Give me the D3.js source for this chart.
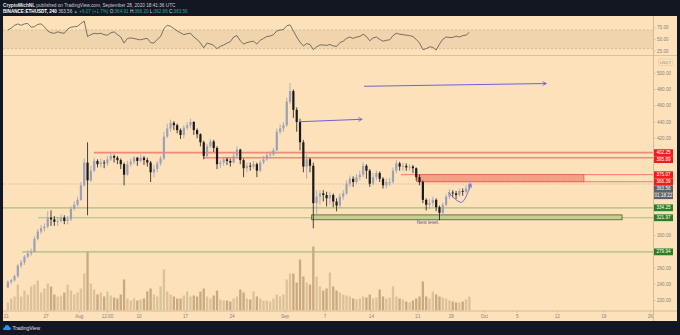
<!DOCTYPE html>
<html><head><meta charset="utf-8">
<script src="https://cdn.jsdelivr.net/npm/d3@7"></script>
<style>
html,body{margin:0;padding:0;background:#131722;}
svg{display:block;font-family:"Liberation Sans",Arial,sans-serif;}
</style>
</head><body>
<svg id="chart" width="680" height="335"></svg>
<script>
// ETHUSDT, 12h candles from 2020-07-21 00:00 UTC (two per day: 00:00 and 12:00)
const firstOpen = 236;
const closes = [
 243,245, 250,263, 267,274, 278,280, 296,305, 309,311, 322,320, 317,318, 322,318, 320,333, 338,344,
 362,390, 368,380, 392,388, 390,389, 394,398, 396,393, 388,375, 388,391, 396,392, 396,393, 390,378,
 382,389, 395,422, 432,439, 436,430, 424,433, 436,440, 430,425, 415,398, 410,416, 408,388, 390,394,
 392,390, 398,406, 393,383, 386,385, 388,380, 390,394, 399,400, 405,428, 432,436,
 465,478, 455,440, 415,385, 394,386, 340,348, 352,350, 346,350, 342,337, 348,352, 364,370, 366,372,
 375,386, 380,364, 372,377, 370,362, 366,366, 380,389, 385,386, 384,385, 383,372, 366,344, 338,340,
 344,335, 328,338, 348,353, 352,350, 355,354, 358,363.56
];
const highs = [
 245,247, 252,265, 270,276, 282,284, 299,308, 313,315, 330,331, 324,323, 326,325, 324,336, 342,348,
 366,395, 415,386, 396,394, 395,393, 398,402, 400,398, 395,390, 392,395, 398,397, 400,398, 396,392,
 387,392, 398,428, 438,443, 441,438, 432,436, 440,444, 441,432, 426,417, 413,419, 418,410, 394,397,
 396,395, 402,410, 407,395, 390,390, 392,390, 393,398, 402,404, 408,432, 437,440,
 470,488, 480,458, 444,418, 400,396, 390,356, 356,356, 354,354, 352,346, 352,356, 368,374, 373,376,
 380,390, 388,382, 377,380, 379,372, 370,371, 384,393, 391,390, 389,388, 387,384, 375,368, 346,345,
 348,346, 337,341, 351,357, 356,355, 358,358, 362,368.2
];
const lows = [
 235,240, 243,248, 260,264, 272,275, 279,294, 302,305, 309,312, 312,312, 316,314, 314,318, 331,336,
 343,360, 325,366, 378,384, 384,383, 386,392, 390,388, 382,362, 374,385, 388,386, 390,387, 385,366,
 372,378, 386,393, 420,428, 430,426, 419,420, 430,432, 424,420, 410,394, 396,408, 403,382, 383,386,
 387,385, 389,396, 388,372, 378,380, 382,372, 378,388, 392,395, 398,404, 425,428,
 434,462, 445,428, 405,378, 370,378, 309,325, 338,342, 336,338, 335,330, 334,344, 350,360, 360,364,
 368,372, 370,360, 362,368, 366,358, 358,361, 364,377, 380,380, 380,380, 377,368, 362,340, 331,333,
 336,330, 319,324, 336,345, 347,345, 348,349, 352,356
];
// volume per candle, in 10k ETH
const volumes = [
 8,12, 14,26, 14,20, 16,24, 26,30, 18,22, 27,24, 16,14, 15,18, 26,20, 16,18,
 22,37, 59,27, 21,16, 18,14, 19,15, 13,12, 16,31, 12,10, 12,10, 11,12, 19,22,
 16,14, 24,41, 19,16, 14,12, 12,15, 19,14, 15,14, 19,22, 14,12, 15,20, 11,10,
 10,9, 12,14, 21,18, 12,11, 19,14, 12,10, 10,9, 12,16, 14,16,
 31,37, 37,28, 51,34, 28,26, 64,34, 24,20, 22,38, 24,20, 18,16, 15,14, 12,11,
 12,14, 13,16, 12,13, 21,14, 12,13, 24,14, 12,11, 9,8, 10,12, 14,29, 14,12,
 19,16, 14,13, 12,10, 9,8, 8,9, 11,14
];
// RSI(14) readings per candle
const rsi = [
 70,74, 80,83, 80,83, 84,76, 77,82, 83,77, 68,64, 63,66, 64,63, 72,76, 77,78,
 84,89, 56,60, 63,62, 63,60, 59,64, 66,60, 55,42, 52,53, 52,50, 49,51, 52,43,
 42,50, 56,73, 80,78, 73,68, 64,60, 62,63, 55,50, 42,32, 42,40, 37,30, 35,38,
 42,45, 55,58, 47,40, 43,45, 46,40, 48,52, 56,57, 60,68, 70,71,
 79,81, 68,55, 44,36, 41,39, 28,34, 38,38, 37,39, 36,35, 43,46, 52,55, 52,55,
 56,61, 56,47, 53,55, 50,46, 48,49, 58,63, 61,60, 59,58, 56,50, 42,28, 30,34,
 33,27, 40,50, 55,54, 54,57, 55,58, 59,65
];

// price axis ticks and time axis labels
const priceTicks = [220,240,260,280,300,320,340,360,380,400,420,440,460,480,500];
const rsiTicks = [25,50,75];
const timeTickDates = ["2020-07-21","2020-07-27","2020-08-01","2020-08-05T06:00","2020-08-10","2020-08-17","2020-08-24",
  "2020-09-01","2020-09-07","2020-09-14","2020-09-21","2020-09-28","2020-10-01","2020-10-05","2020-10-12","2020-10-19","2020-10-26"];
const timeTickLabels = ["21","27","Aug","12:00","10","17","24","Sep","7","14","21","28","Oct","5","12","19","26"];

// drawn levels and zones
const redLevels = [{price:402.25, from:"2020-08-03T05:30"}, {price:395.89, from:"2020-08-19T15:00"}];
const greenLevels = [{price:334.25, from:"2020-07-20T00:00"}, {price:321.97, from:"2020-07-25T19:00"}, {price:279.94, from:"2020-07-23T09:30"}];
const redZone = {top:375.07, bottom:366.39, from:"2020-09-20T20:00", to:"2020-10-16T00:00", lineFrom:"2020-09-18T11:00"};
const greenZone = {top:325.5, bottom:319.5, from:"2020-09-05T00:00", to:"2020-10-21T18:00"};
const arrows = [
  [["2020-09-03T02:00",440.3],["2020-09-12T13:00",443.3]],
  [["2020-09-12T21:30",484.0],["2020-10-10T07:00",487.4]]
];
const pathPoints = [["2020-09-25T14:00",353.3],["2020-09-27T14:00",341.0],["2020-09-28T23:00",363.5]];
const noteText = {text:"Next level.", date:"2020-09-20T20:00", price:314};
const lastPrice = 363.56;
const countdown = "01:18:22";

const D = s => new Date(s.length === 10 ? s + "T00:00:00Z" : s + ":00Z");
const HALF = 12 * 3600e3;
const t0 = Date.UTC(2020, 6, 21);
const candles = closes.map((c, i) => ({
  t: new Date(t0 + i * HALF + HALF / 2),
  o: i ? closes[i - 1] : firstOpen, h: highs[i], l: lows[i], c, v: volumes[i], r: rsi[i]
}));

const svg = d3.select("#chart");
const L = 3, R = 653, TOP = 57, BOT = 310.5;

const x = d3.scaleUtc().domain([D("2020-07-21"), D("2020-10-26")]).range([6.2, 650.3]);
const y = d3.scaleLinear().domain([220, 500]).range([300.5, 73.3]);
const yR = d3.scaleLinear().domain([30, 70]).range([48.7, 30]);
const yV = d3.scaleLinear().domain([0, 64]).range([BOT, BOT - 64]);
const step = x(new Date(t0 + HALF)) - x(new Date(t0));

// frame
svg.append("rect").attr("width", 680).attr("height", 335).attr("fill", "#131722");
svg.append("rect").attr("x", L).attr("y", 16).attr("width", 677 - L).attr("height", 321 - 16).attr("fill", "#fde1bb");

// RSI pane
svg.append("rect").attr("x", L).attr("y", yR(70)).attr("width", R - L).attr("height", yR(30) - yR(70)).attr("fill", "#efd4ae");
[70, 30].forEach(v => svg.append("line").attr("x1", L).attr("x2", R).attr("y1", yR(v)).attr("y2", yR(v))
  .attr("stroke", "#c8b296").attr("stroke-width", 0.7).attr("stroke-dasharray", "2,2"));
svg.append("path").datum(candles)
  .attr("d", d3.line().x(d => x(d.t)).y(d => yR(d.r)))
  .attr("fill", "none").attr("stroke", "#5c5448").attr("stroke-width", 0.8);
svg.append("line").attr("x1", L).attr("x2", 677).attr("y1", 55.5).attr("y2", 55.5).attr("stroke", "#d9c19c").attr("stroke-width", 1.2);

// main pane
svg.append("clipPath").attr("id", "main").append("rect").attr("x", L).attr("y", TOP).attr("width", R - L).attr("height", BOT - TOP);
const g = svg.append("g").attr("clip-path", "url(#main)");

// volume
g.selectAll("rect.vol").data(candles).join("rect").attr("class", "vol")
  .attr("x", d => x(d.t) - step * 0.35).attr("width", step * 0.7)
  .attr("y", d => yV(d.v)).attr("height", d => BOT - yV(d.v))
  .attr("fill", d => d.c >= d.o ? "#dcc29a" : "#c9aa80");

// horizontal levels
redLevels.forEach(l => g.append("line").attr("x1", x(D(l.from))).attr("x2", R).attr("y1", y(l.price)).attr("y2", y(l.price))
  .attr("stroke", "#f07a6a").attr("stroke-width", 1.6).attr("opacity", 0.85));
greenLevels.forEach(l => g.append("line").attr("x1", Math.max(L, x(D(l.from)))).attr("x2", R).attr("y1", y(l.price)).attr("y2", y(l.price))
  .attr("stroke", "#a9bd7c").attr("stroke-width", 1.2));

// zones
g.append("rect").attr("x", x(D(greenZone.from))).attr("width", x(D(greenZone.to)) - x(D(greenZone.from)))
  .attr("y", y(greenZone.top)).attr("height", y(greenZone.bottom) - y(greenZone.top))
  .attr("fill", "#c3d08f").attr("stroke", "#4f5b35").attr("stroke-width", 0.8);
g.append("line").attr("x1", x(D(redZone.lineFrom))).attr("x2", R).attr("y1", y(redZone.top)).attr("y2", y(redZone.top))
  .attr("stroke", "#f07a6a").attr("stroke-width", 1);
g.append("line").attr("x1", x(D(redZone.from))).attr("x2", R).attr("y1", y(redZone.bottom)).attr("y2", y(redZone.bottom))
  .attr("stroke", "#f07a6a").attr("stroke-width", 1);
g.append("rect").attr("x", x(D(redZone.from))).attr("width", x(D(redZone.to)) - x(D(redZone.from)))
  .attr("y", y(redZone.top)).attr("height", y(redZone.bottom) - y(redZone.top))
  .attr("fill", "#f3a084").attr("stroke", "#d9604e").attr("stroke-width", 0.8);

// last price dotted line
g.append("line").attr("x1", L).attr("x2", R).attr("y1", y(lastPrice)).attr("y2", y(lastPrice))
  .attr("stroke", "#9c9486").attr("stroke-width", 0.6).attr("stroke-dasharray", "1,1.5");

// candles
const cg = g.append("g");
cg.selectAll("line.wick").data(candles).join("line").attr("class", "wick")
  .attr("x1", d => x(d.t)).attr("x2", d => x(d.t)).attr("y1", d => y(d.h)).attr("y2", d => y(d.l))
  .attr("stroke", d => d.c >= d.o ? "#9ba1b6" : "#1a1a1a").attr("stroke-width", 0.8);
cg.selectAll("rect.body").data(candles).join("rect").attr("class", "body")
  .attr("x", d => x(d.t) - step * 0.33).attr("width", step * 0.66)
  .attr("y", d => y(Math.max(d.o, d.c))).attr("height", d => Math.max(0.8, Math.abs(y(d.o) - y(d.c))))
  .attr("fill", d => d.c >= d.o ? "#9ba1b6" : "#1a1a1a");

// annotations
const ann = "#6e62d6";
svg.append("defs").append("marker").attr("id", "head").attr("viewBox", "0 0 10 10").attr("refX", 8).attr("refY", 5)
  .attr("markerWidth", 5).attr("markerHeight", 5).attr("orient", "auto")
  .append("path").attr("d", "M1,1 L9,5 L1,9").attr("fill", "none").attr("stroke", ann).attr("stroke-width", 1.6);
arrows.forEach(a => g.append("line")
  .attr("x1", x(D(a[0][0]))).attr("y1", y(a[0][1])).attr("x2", x(D(a[1][0]))).attr("y2", y(a[1][1]))
  .attr("stroke", ann).attr("stroke-width", 1).attr("marker-end", "url(#head)"));
g.append("path").datum(pathPoints)
  .attr("d", d3.line().x(d => x(D(d[0]))).y(d => y(d[1])).curve(d3.curveCatmullRom))
  .attr("fill", "none").attr("stroke", ann).attr("stroke-width", 0.9).attr("marker-end", "url(#head)");
g.append("text").attr("x", x(D(noteText.date))).attr("y", y(noteText.price)).text(noteText.text)
  .attr("font-size", 4.8).attr("fill", "#4a5a92");

// right price axis
svg.append("line").attr("x1", R + 0.5).attr("x2", R + 0.5).attr("y1", 16).attr("y2", 321).attr("stroke", "#c9b393").attr("stroke-width", 0.8);
const boxes = [
  {v:402.25, fill:"#f01d1d"}, {v:395.89, fill:"#f01d1d"},
  {v:375.07, fill:"#f01d1d"}, {v:366.39, fill:"#f01d1d"},
  {v:lastPrice, fill:"#5d606b"}, {v:null, text:countdown, fill:"#5d606b"},
  {v:334.25, fill:"#2e7d24"}, {v:321.97, fill:"#2e7d24"}, {v:279.94, fill:"#2e7d24"}
];
// stack boxes so they don't overlap
let prevY = -Infinity;
boxes.forEach(b => {
  let yy = b.v === null ? prevY + 7 : y(b.v);
  if (yy < prevY + 7) yy = prevY + 7;
  b.y = yy; prevY = yy;
  if (!b.text) b.text = d3.format(".2f")(b.v);
});
const axis = svg.append("g").attr("font-size", 4.6).attr("fill", "#8a8378");
priceTicks.forEach(p => {
  const yy = y(p);
  if (boxes.some(b => Math.abs(b.y - yy) < 5)) return;
  axis.append("line").attr("x1", R + 0.5).attr("x2", R + 2.5).attr("y1", yy).attr("y2", yy).attr("stroke", "#b9a68a").attr("stroke-width", 0.5);
  axis.append("text").attr("x", 657).attr("y", yy + 1.6).text(d3.format(".2f")(p));
});
rsiTicks.forEach(v => {
  const yy = 39.35 - (v - 50) * 0.4675;
  axis.append("line").attr("x1", R + 0.5).attr("x2", R + 2.5).attr("y1", yy).attr("y2", yy).attr("stroke", "#b9a68a").attr("stroke-width", 0.5);
  axis.append("text").attr("x", 657).attr("y", yy + 1.6).text(d3.format(".2f")(v));
});
svg.append("rect").attr("x", 658.5).attr("y", 59).attr("width", 14).attr("height", 6.5).attr("rx", 1)
  .attr("fill", "none").attr("stroke", "#d9c4a2").attr("stroke-width", 0.5);
svg.append("text").attr("x", 665.5).attr("y", 63.8).attr("text-anchor", "middle").attr("font-size", 4.2).attr("fill", "#9a917f").text("USDT");
boxes.forEach(b => {
  svg.append("rect").attr("x", R + 1).attr("y", b.y - 3.4).attr("width", 19).attr("height", 6.8).attr("fill", b.fill);
  svg.append("text").attr("x", R + 10.5).attr("y", b.y + 1.6).attr("text-anchor", "middle")
    .attr("font-size", 4.6).attr("fill", "#ffffff").text(b.text);
});

// time axis
svg.append("line").attr("x1", L).attr("x2", 677).attr("y1", BOT + 0.5).attr("y2", BOT + 0.5).attr("stroke", "#c9b393").attr("stroke-width", 0.8);
const tt = timeTickDates.map((d, i) => ({x: x(D(d)), label: timeTickLabels[i], month: /^[A-Z]/.test(timeTickLabels[i])}));
// day labels keep clear of month labels
tt.forEach((t, i) => {
  if (t.month || !/^\d+$/.test(t.label)) return;
  [tt[i - 1], tt[i + 1]].forEach(n => {
    if (n && n.month && Math.abs(n.x - t.x) < 33) t.x = n.x + (t.x < n.x ? -33 : 33);
  });
});
const tg = svg.append("g").attr("font-size", 4.6).attr("fill", "#8a8378").attr("text-anchor", "middle");
tt.forEach(t => {
  tg.append("line").attr("x1", t.x).attr("x2", t.x).attr("y1", BOT + 0.5).attr("y2", BOT + 2.3).attr("stroke", "#b9a68a").attr("stroke-width", 0.5);
  tg.append("text").attr("x", t.x).attr("y", 318).text(t.label);
});

// header
const h1 = svg.append("text").attr("x", 3).attr("y", 6.6).attr("font-size", 4.7).attr("fill", "#c9ccd4");
h1.append("tspan").attr("font-weight", "bold").attr("fill", "#e6e8ee").text("CryptoMichNL");
h1.append("tspan").text(" published on TradingView.com, September 28, 2020 18:41:36 UTC");
const h2 = svg.append("text").attr("x", 3).attr("y", 13.4).attr("font-size", 4.6).attr("fill", "#d1d4dc");
h2.append("tspan").attr("font-weight", "bold").attr("fill", "#ffffff").text("BINANCE:ETHUSDT, 240");
h2.append("tspan").text(" 363.56 ");
h2.append("tspan").attr("fill", "#26a69a").text("▲ +6.07 (+1.7%)");
[["O:", "364.91"], ["H:", "368.20"], ["L:", "362.86"], ["C:", "363.56"]].forEach(([k, v]) => {
  h2.append("tspan").text(" " + k);
  h2.append("tspan").attr("fill", "#26a69a").text(v);
});

// footer
const logo = svg.append("g").attr("transform", "translate(3,324)");
logo.append("path").attr("d", "M1,6 Q0,6 0,4.8 Q0,3.4 1.6,3.4 Q1.8,1 4,1 Q6,1 6.4,3 Q8,3 8,4.6 Q8,6 6.6,6 Z").attr("fill", "#2196f3");
svg.append("text").attr("x", 12.5).attr("y", 330.2).attr("font-size", 5).attr("fill", "#e0e3eb").text("TradingView");
</script>
</body></html>
